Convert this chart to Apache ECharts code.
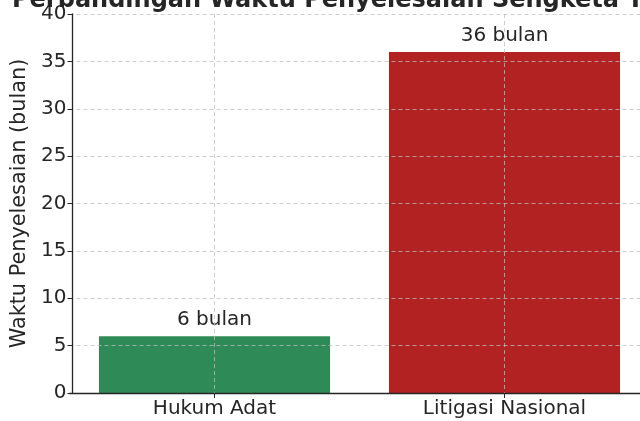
<!DOCTYPE html>
<html>
<head>
<meta charset="utf-8">
<script src="https://cdn.jsdelivr.net/npm/echarts@6/dist/echarts.min.js"></script>
<style>html,body{margin:0;padding:0;background:#fff}#c{width:640px;height:421px}</style>
</head>
<body>
<div id="c"></div>
<script>
var categories = ["Hukum Adat", "Litigasi Nasional"];
var values = [6, 36];
var barColors = ["#2e8b57", "#b22222"];
var labelSuffix = " bulan";
var yTicks = [0, 5, 10, 15, 20, 25, 30, 35, 40];
var titleText = "Perbandingan Waktu Penyelesaian Sengketa Tanah";
var yName = "Waktu Penyelesaian (bulan)";

var chart = echarts.init(document.getElementById('c'), null, {renderer: 'canvas'});
var font = 'DejaVu Sans';
var gridLine = {show: true, lineStyle: {color: 'rgba(190,190,190,0.75)', type: [4, 3], width: 1}};
chart.setOption({
  animation: false,
  backgroundColor: '#ffffff',
  title: {
    text: titleText, left: 12, top: -11, padding: 0,
    textStyle: {fontFamily: font, fontWeight: 'bold', fontSize: 24, color: '#262626'}
  },
  grid: {left: 69.5, top: 14, bottom: 28, width: 580, containLabel: false, outerBoundsMode: 'none'},
  xAxis: {
    type: 'category', data: categories, z: 5,
    axisLine: {show: true, lineStyle: {color: '#262626', width: 1.3}},
    axisTick: {show: true, alignWithLabel: true, length: 5, lineStyle: {color: '#262626'}},
    axisLabel: {fontFamily: font, fontSize: 20, color: '#262626', margin: 6},
    splitLine: Object.assign({alignWithLabel: true}, gridLine)
  },
  yAxis: {
    type: 'value', min: 0, max: 40, interval: 5, z: 5, offset: -3,
    name: yName, nameLocation: 'middle', nameGap: 29,
    nameTextStyle: {fontFamily: font, fontSize: 20.8, color: '#262626'},
    axisLine: {show: true, lineStyle: {color: '#262626', width: 1.3}},
    axisTick: {show: true, length: 5, lineStyle: {color: '#262626'}},
    axisLabel: {fontFamily: font, fontSize: 20, color: '#262626', margin: 6,
      formatter: function (v) { return yTicks.indexOf(v) >= 0 ? String(v) : ''; }},
    splitLine: gridLine
  },
  series: [{
    type: 'bar', barWidth: '79.7%', z: 2,
    data: values.map(function (v, i) { return {value: v, itemStyle: {color: barColors[i]}}; }),
    label: {show: true, position: 'top', distance: 6, fontFamily: font, fontSize: 20, color: '#262626',
      formatter: function (p) { return p.value + labelSuffix; }}
  }]
});
</script>
</body>
</html>
